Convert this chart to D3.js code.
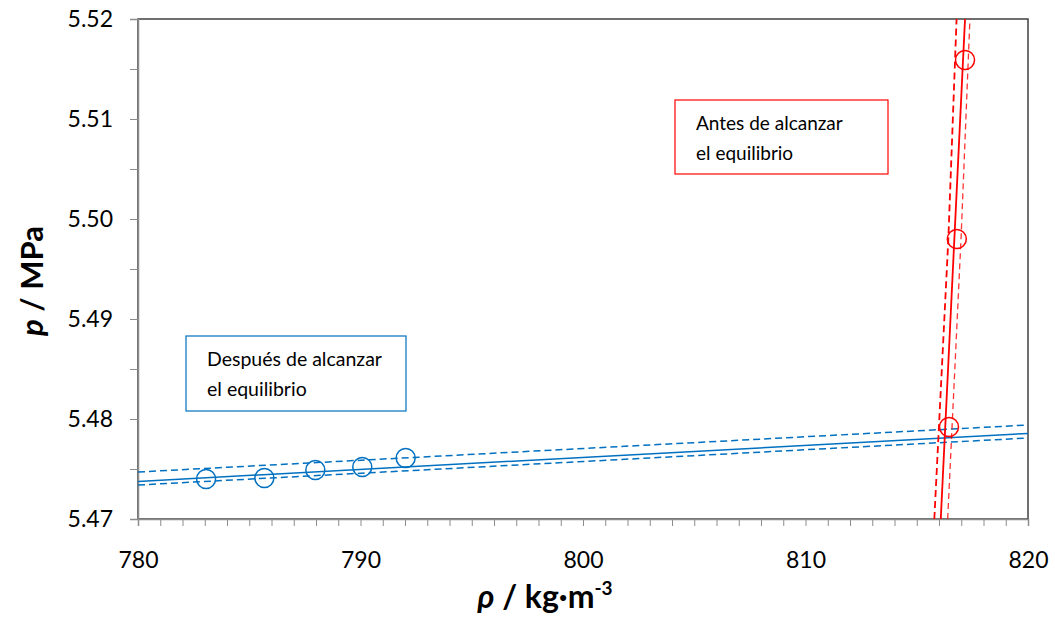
<!DOCTYPE html>
<meta charset="utf-8">
<style>
  body { margin: 0; background: #fff; }
  text { font-family: Lato, "Open Sans", sans-serif; }
</style>
<svg width="1055" height="619"></svg>
<script src="https://d3js.org/d3.v7.min.js"></script>
<script>

// datos
var rhoTicks = [780, 790, 800, 810, 820];
var pTicks = [5.47, 5.48, 5.49, 5.50, 5.51, 5.52];

// después de alcanzar el equilibrio (azul)
var blueRho = [783.06, 785.68, 787.97, 790.08, 792.03];
var blueP = [5.4740, 5.4741, 5.4749, 5.4752, 5.4761];
var blueFit = [[780, 5.47376], [820, 5.47856]];
var blueUpper = [[780, 5.4747], [820, 5.4794]];
var blueLower = [[780, 5.4734], [820, 5.4781]];

// antes de alcanzar el equilibrio (rojo)
var redRho = [816.45, 816.80, 817.17];
var redP = [5.4792, 5.4980, 5.5159];
var redFit = [[816.08, 5.47], [817.17, 5.52]];
var redLeft = [[815.79, 5.47], [816.42, 5.498], [816.79, 5.52]];
var redRight = [[816.39, 5.47], [816.99, 5.498], [817.39, 5.52]];

var blue = "#0070c0", red = "#ff0000";

var svg = d3.select("svg"),
    margin = {left: 138, top: 19, right: 27, bottom: 100},
    width = 1055 - margin.left - margin.right,
    height = 619 - margin.top - margin.bottom;

var x = d3.scaleLinear().domain([780, 820]).range([margin.left, margin.left + width]);
var y = d3.scaleLinear().domain([5.47, 5.52]).range([margin.top + height, margin.top]);

svg.append("clipPath").attr("id", "clip")
  .append("rect")
    .attr("x", margin.left).attr("y", margin.top)
    .attr("width", width).attr("height", height);

// marco del área de trazado
svg.append("rect")
    .attr("x", margin.left).attr("y", margin.top)
    .attr("width", width).attr("height", height)
    .attr("fill", "none").attr("stroke", "#404040").attr("stroke-width", 1.5);

// eje x: marcas menores cada 1
var xAxis = svg.append("g")
    .attr("transform", "translate(0," + (margin.top + height) + ")")
    .call(d3.axisBottom(x).ticks(40).tickSize(7).tickFormat(""));
var xLab = svg.append("g")
    .attr("transform", "translate(0," + (margin.top + height) + ")")
    .call(d3.axisBottom(x).tickValues(rhoTicks).tickSize(0).tickPadding(33).tickFormat(d3.format("d")));
xLab.select(".domain").remove();

var yAxis = svg.append("g")
    .attr("transform", "translate(" + margin.left + ",0)")
    .call(d3.axisLeft(y).ticks(10).tickSize(8).tickFormat(""));
var yLab = svg.append("g")
    .attr("transform", "translate(" + margin.left + ",0)")
    .call(d3.axisLeft(y).tickValues(pTicks).tickSize(0).tickPadding(25).tickFormat(d3.format(".2f")));
yLab.select(".domain").remove();

svg.selectAll(".tick line").attr("stroke", "#8c8c8c");
xAxis.select(".domain").attr("stroke", "#8c8c8c").attr("stroke-width", 1.5);
yAxis.select(".domain").attr("stroke", "#8c8c8c").attr("stroke-width", 1.5);
svg.selectAll(".tick text").attr("font-family", "Lato").attr("font-size", 23).attr("fill", "#000");

// líneas
var line = d3.line().x(function(d) { return x(d[0]); }).y(function(d) { return y(d[1]); });
var g = svg.append("g").attr("clip-path", "url(#clip)");

function draw(data, color, w, dash, op) {
  g.append("path").datum(data)
    .attr("d", line)
    .attr("fill", "none")
    .attr("stroke", color)
    .attr("stroke-width", w)
    .attr("stroke-opacity", op || 1)
    .attr("stroke-dasharray", dash);
}
draw(blueUpper, blue, 1.5, "7,4");
draw(blueLower, blue, 1.5, "7,4");
draw(blueFit, blue, 1.5, null);
draw(redLeft, red, 1.8, "7,4");
draw(redRight, red, 1.3, "6,4", 0.8);
draw(redFit, red, 1.8, null);

// puntos
svg.append("g").selectAll("circle")
  .data(d3.range(blueRho.length))
  .enter().append("circle")
    .attr("cx", function(i) { return x(blueRho[i]); })
    .attr("cy", function(i) { return y(blueP[i]); })
    .attr("r", 9.5)
    .attr("fill", "none").attr("stroke", blue).attr("stroke-width", 1.5);

svg.append("g").selectAll("circle")
  .data(d3.range(redRho.length))
  .enter().append("circle")
    .attr("cx", function(i) { return x(redRho[i]); })
    .attr("cy", function(i) { return y(redP[i]); })
    .attr("r", 9.5)
    .attr("fill", "none").attr("stroke", red).attr("stroke-width", 1.5);

// cuadros de texto
function box(x0, y0, w, h, color, lines, tx, ty, fs) {
  svg.append("rect")
    .attr("x", x0).attr("y", y0).attr("width", w).attr("height", h)
    .attr("fill", "#fff").attr("stroke", color).attr("stroke-width", 1.2);
  svg.append("g").selectAll("text").data(lines).enter().append("text")
    .attr("x", tx).attr("y", function(d, i) { return ty + i * 30; })
    .attr("font-size", fs).attr("fill", "#000")
    .text(function(d) { return d; });
}
box(675, 100, 213, 74, red, ["Antes de alcanzar", "el equilibrio"], 696, 130, 19);
box(186, 336, 220, 75, blue, ["Después de alcanzar", "el equilibrio"], 207, 366, 19.5);

// títulos de ejes
var xt = svg.append("text")
    .attr("x", 545).attr("y", 608)
    .attr("text-anchor", "middle")
    .attr("font-size", 32).attr("font-weight", "bold");
xt.append("tspan").attr("font-style", "italic").text("ρ");
xt.append("tspan").text(" / kg·m");
xt.append("tspan").attr("font-size", 19).attr("dy", -13).text("-3");

var yt = svg.append("text")
    .attr("transform", "translate(43,281) rotate(-90)")
    .attr("text-anchor", "middle")
    .attr("font-size", 31).attr("font-weight", "bold");
yt.append("tspan").attr("font-style", "italic").text("p");
yt.append("tspan").text(" / MPa");

</script>
